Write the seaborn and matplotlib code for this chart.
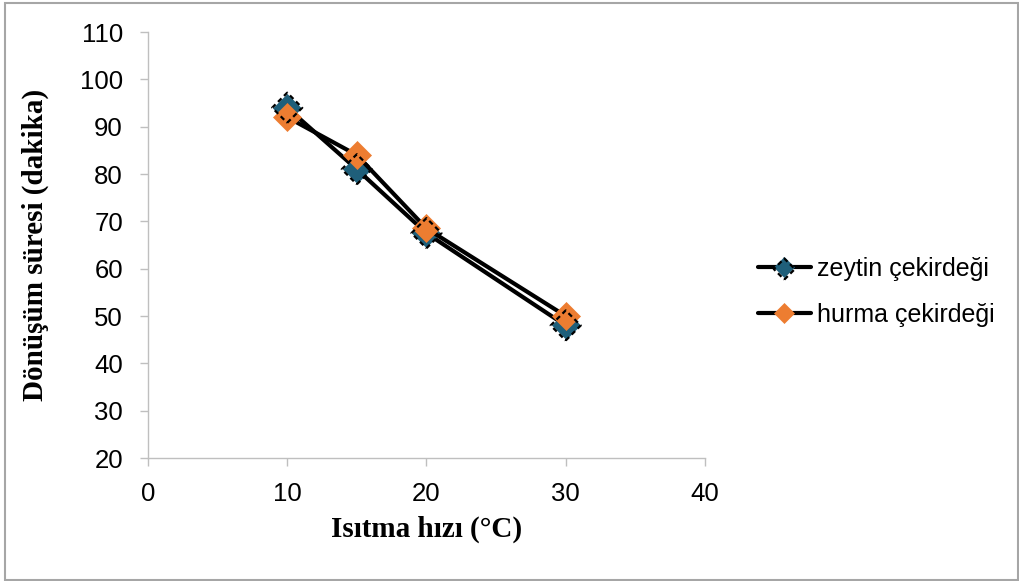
import matplotlib
matplotlib.use("Agg")
import matplotlib.pyplot as plt
import seaborn as sns
import pandas as pd
from matplotlib.patches import Rectangle
from matplotlib.legend_handler import HandlerTuple

heating_rate = [10, 15, 20, 30]
zeytin = [94, 81, 67.5, 48]
hurma = [92, 84, 68.5, 50]
series_names = ["zeytin çekirdeği", "hurma çekirdeği"]
x_label = "Isıtma hızı (°C)"
y_label = "Dönüşüm süresi (dakika)"

sns.set_theme(style="white")
plt.rcParams['font.family'] = ['Liberation Sans', 'DejaVu Sans']
plt.rcParams['text.color'] = 'black'
plt.rcParams['axes.labelcolor'] = 'black'

fig = plt.figure(figsize=(10.19, 5.81), dpi=100)
ax = fig.add_axes([0.1452, 0.2117, 0.5466, 0.7332])

df_z = pd.DataFrame({"x": heating_rate, "y": zeytin})
df_h = pd.DataFrame({"x": heating_rate, "y": hurma})

sns.lineplot(data=df_z, x="x", y="y", ax=ax, color="black",
             lw=3, marker="D", markersize=14, markerfacecolor="#1F5F7A",
             markeredgecolor="#1F5F7A", markeredgewidth=0.5, label=series_names[0])
scat = ax.scatter(df_z["x"], df_z["y"], marker="D", s=235, facecolors="none",
                  edgecolors="black", linewidths=1.6, linestyles=(0, (2.2, 1.6)), zorder=3)
sns.lineplot(data=df_h, x="x", y="y", ax=ax, color="black",
             lw=3, marker="D", markersize=14, markerfacecolor="#ED7D31",
             markeredgecolor="#ED7D31", markeredgewidth=0.5, label=series_names[1])

ax.set_xlim(0, 40)
ax.set_ylim(20, 110)
ax.set_xticks(range(0, 41, 10))
ax.set_yticks(range(20, 111, 10))
ax.tick_params(axis='both', labelsize=18.5, labelcolor='black', length=6, direction='out',
               color='#BFBFBF', width=1)
ax.tick_params(axis='x', bottom=True, pad=11)
ax.tick_params(axis='y', left=True, pad=12)
for s in ["top", "right"]:
    ax.spines[s].set_visible(False)
for s in ["left", "bottom"]:
    ax.spines[s].set_color("#BFBFBF")
    ax.spines[s].set_linewidth(1)

ax.set_xlabel(x_label, family=['Liberation Serif'], fontweight='bold', fontsize=21)
ax.set_ylabel(y_label, family=['Liberation Serif'], fontweight='bold', fontsize=21)
ax.xaxis.set_label_coords(0.5, -0.135)
ax.yaxis.set_label_coords(-0.178, 0.5)

lines = ax.get_lines()
leg = ax.legend(handles=[(lines[0], scat), lines[1]], labels=series_names,
                handler_map={tuple: HandlerTuple(ndivide=1, pad=0)},
                loc="center left", bbox_to_anchor=(1.055, 0.39), frameon=False,
                fontsize=18, handlelength=2.1, labelspacing=0.9, handletextpad=0.25,
                markerscale=0.7)

fig.patches.append(Rectangle((0.0049, 0.0017), 0.994, 0.993, transform=fig.transFigure,
                             fill=False, edgecolor="#A6A6A6", lw=1.5))

fig.savefig("out.png", dpi=100)
